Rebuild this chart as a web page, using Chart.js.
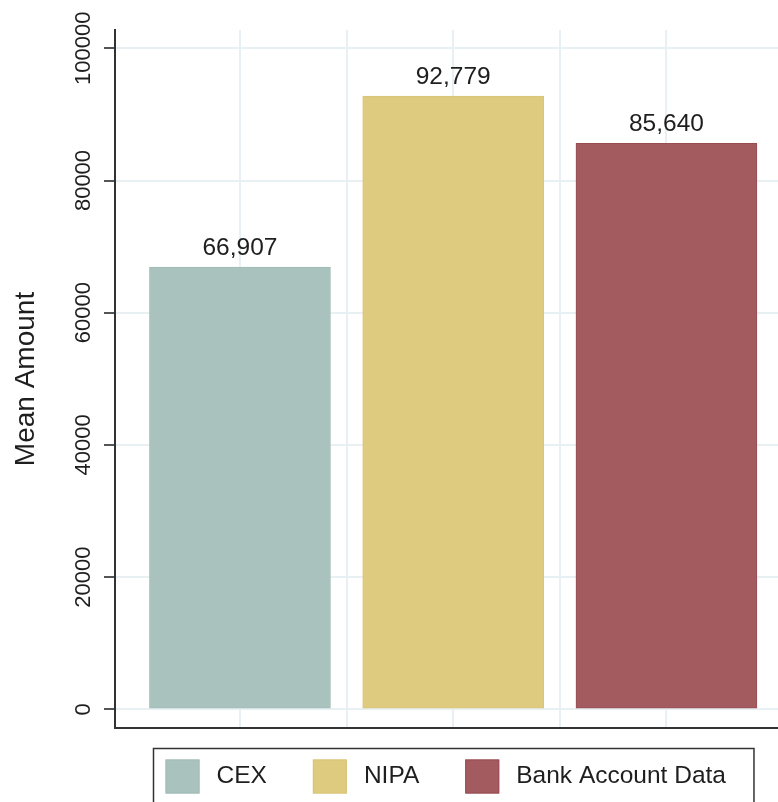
<!DOCTYPE html>
<html>
<head>
<meta charset="utf-8">
<script src="https://cdn.jsdelivr.net/npm/chart.js@4.4.1/dist/chart.umd.min.js"></script>
<style>
  html, body { margin: 0; padding: 0; background: #ffffff; }
  #wrap { width: 778px; height: 802px; }
</style>
</head>
<body>
<div id="wrap"><canvas id="c" width="778" height="802"></canvas></div>
<script>
// ---- data ----
const categories = ['CEX', 'NIPA', 'Bank Account Data'];
const meanAmounts = [66907, 92779, 85640];
const barColors = ['#aac2be', '#dfcb80', '#a35b5f'];
const barEdgeColors = ['#a2bbb7', '#d9c477', '#984d53'];
const yTickValues = [0, 20000, 40000, 60000, 80000, 100000];
const xGridValues = [1, 1.5, 2, 2.5, 3];
const yTitle = 'Mean Amount';

const FONT = '"Liberation Sans", Arial, Helvetica, sans-serif';
const TEXT = '#1e1e1e';

const datasets = categories.map((name, i) => ({
  label: name,
  data: [{ x: i + 1, y: meanAmounts[i] }],
  backgroundColor: barColors[i],
  borderColor: barEdgeColors[i],
  borderWidth: 1,
  borderSkipped: false,
  barThickness: 181,
  grouped: false
}));

const valueLabels = {
  id: 'valueLabels',
  afterDatasetsDraw(chart) {
    const ctx = chart.ctx;
    ctx.save();
    ctx.font = '24.5px ' + FONT;
    ctx.fillStyle = TEXT;
    ctx.textAlign = 'center';
    ctx.textBaseline = 'alphabetic';
    chart.data.datasets.forEach((ds, i) => {
      const meta = chart.getDatasetMeta(i);
      meta.data.forEach((el, j) => {
        const v = ds.data[j].y;
        ctx.fillText(v.toLocaleString('en-US'), el.x, el.y - 12);
      });
    });
    ctx.restore();
  }
};

const boxLegend = {
  id: 'boxLegend',
  afterDraw(chart) {
    const ctx = chart.ctx;
    const a = chart.chartArea;
    const dss = chart.data.datasets;
    ctx.save();
    ctx.font = '24.5px ' + FONT;
    const sw = 34, gapText = 17, gapItem = 46, padL = 12, padR = 28;
    const widths = dss.map(d => ctx.measureText(d.label).width);
    const total = padL + padR + widths.reduce((s, w) => s + sw + gapText + w, 0) + gapItem * (widths.length - 1);
    const left = a.left + 38.5;
    const top = a.bottom + 20.5;
    ctx.strokeStyle = '#333333';
    ctx.lineWidth = 1.5;
    ctx.strokeRect(left, top, total, 120);
    let x = left + padL;
    const cy = top + 28;
    dss.forEach((d, i) => {
      ctx.fillStyle = d.backgroundColor;
      ctx.fillRect(x, cy - sw / 2, sw, sw);
      ctx.strokeStyle = d.borderColor;
      ctx.lineWidth = 1;
      ctx.strokeRect(x + 0.5, cy - sw / 2 + 0.5, sw - 1, sw - 1);
      ctx.fillStyle = TEXT;
      ctx.textAlign = 'left';
      ctx.textBaseline = 'middle';
      ctx.fillText(d.label, x + sw + gapText, cy);
      x += sw + gapText + widths[i] + gapItem;
    });
    ctx.restore();
  }
};

new Chart(document.getElementById('c'), {
  type: 'bar',
  data: { datasets },
  options: {
    responsive: false,
    animation: false,
    devicePixelRatio: 1,
    layout: { padding: { top: 30, right: 0, bottom: 74, left: 0 } },
    plugins: {
      legend: { display: false },
      tooltip: { enabled: false }
    },
    scales: {
      x: {
        type: 'linear',
        offset: false,
        min: 0.414,
        max: 3.5231,
        afterBuildTicks: (scale) => { scale.ticks = xGridValues.map(v => ({ value: v })); },
        afterFit: (scale) => { scale.height = 0; },
        ticks: { display: false },
        grid: { offset: false, color: '#e8f0f3', lineWidth: 2, drawTicks: false },
        border: { display: true, color: '#333333', width: 2 }
      },
      y: {
        type: 'linear',
        min: -2830,
        max: 102770,
        afterBuildTicks: (scale) => { scale.ticks = yTickValues.map(v => ({ value: v })); },
        afterFit: (scale) => { scale.width = 115; },
        ticks: {
          callback: (v) => String(v),
          minRotation: 90,
          maxRotation: 90,
          crossAlign: 'center',
          padding: -16.7,
          color: TEXT,
          font: { family: FONT, size: 22 }
        },
        grid: { color: '#e8f0f3', lineWidth: 2, tickLength: 11, tickColor: '#555555', tickWidth: 2 },
        border: { display: true, color: '#333333', width: 2 },
        title: {
          display: true,
          text: yTitle,
          color: TEXT,
          font: { family: FONT, size: 28 },
          padding: { top: 9, bottom: 0 }
        }
      }
    }
  },
  plugins: [valueLabels, boxLegend]
});
</script>
</body>
</html>
